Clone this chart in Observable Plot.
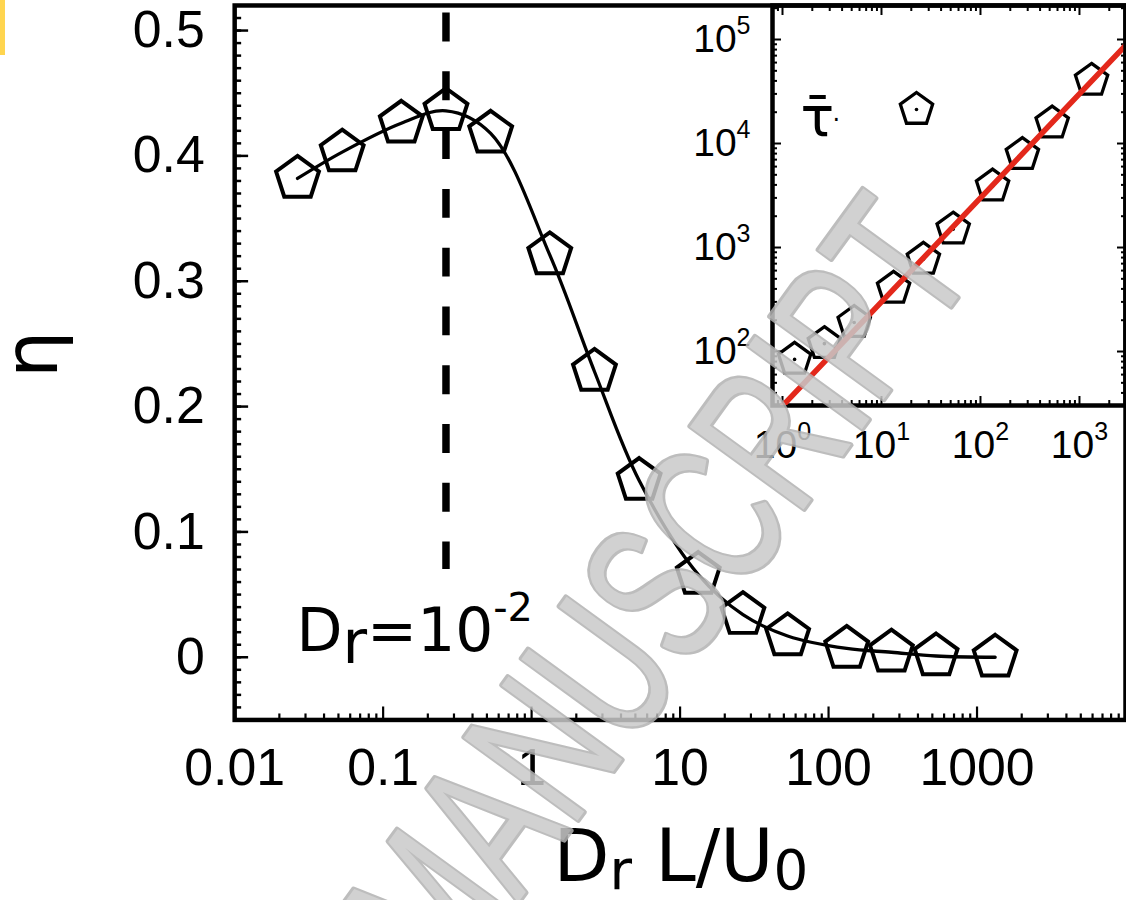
<!DOCTYPE html>
<html><head><meta charset="utf-8">
<script src="https://cdn.jsdelivr.net/npm/d3@7"></script>
<script src="https://cdn.jsdelivr.net/npm/@observablehq/plot@0.6"></script>
<style>
html,body{margin:0;padding:0;background:#fff;overflow:hidden;width:1126px;height:900px;}
#wrap{position:relative;width:1126px;height:900px;overflow:hidden;}
#wrap svg{position:absolute;top:0;}
#ybar{position:absolute;left:0;top:0;width:5px;height:55px;background:#FFD54F;}
</style></head><body><div id="wrap"><div id="ybar"></div></div>
<script>
// ---------- data ----------
const drL = [0.0265, 0.053, 0.1325, 0.265, 0.53, 1.325, 2.65, 5.3, 13.25, 26.5, 53, 132.5, 265, 530, 1325];
const eta = [0.382, 0.403, 0.426, 0.436, 0.418, 0.321, 0.228, 0.141, 0.066, 0.034, 0.017, 0.007, 0.004, 0.001, 0.0];
const insetX = [1.325, 2.65, 5.3, 13.25, 26.5, 53, 132.5, 265, 530, 1325];
const tauBar = [84, 119, 190, 405, 770, 1500, 3890, 7830, 15700, 40400];
const fitX = [1, 2920];
const fitY = [30, 87600];
const markerDr = [0.265];
const markerEta = [0.514, 0.07];
const xTicks = [0.01, 0.1, 1, 10, 100, 1000];
const xTickLabels = ["0.01", "0.1", "1", "10", "100", "1000"];
const yTicks = [0, 0.1, 0.2, 0.3, 0.4, 0.5];
const yTickLabels = ["0", "0.1", "0.2", "0.3", "0.4", "0.5"];
const insetXTicks = [1, 10, 100, 1000];
const insetXTickLabels = ["10^{0}", "10^{1}", "10^{2}", "10^{3}"];
const insetYTicks = [100, 1000, 10000, 100000];
const insetYTickLabels = ["10^{2}", "10^{3}", "10^{4}", "10^{5}"];
const annotation = "D_{r}=10^{-2}";
const xLabel = "D_{r} L/U_{0}";
const yLabel = "η";
const legendLabel = "τ\u0304";
const legendDot = "·";
const watermark = "MANUSCRIPT";

// ---------- helpers ----------
const mainData = drL.map((x, i) => ({x, y: eta[i]}));
const insetData = insetX.map((x, i) => ({x, y: tauBar[i]}));
const fitData = fitX.map((x, i) => ({x, y: fitY[i]}));

const pentagon = {
  draw(ctx, size) {
    const R = Math.sqrt(size / Math.PI);
    for (let k = 0; k < 5; k++) {
      const a = -Math.PI / 2 + k * 2 * Math.PI / 5;
      const px = R * Math.cos(a), py = R * Math.sin(a);
      if (k) ctx.lineTo(px, py); else ctx.moveTo(px, py);
    }
    ctx.closePath();
  }
};
function logMinor(lo, hi, dmin, dmax) {
  const out = [];
  for (let e = lo; e < hi; e++) for (let m = 2; m <= 9; m++) {
    const v = m * Math.pow(10, e);
    if (v >= dmin && v <= dmax) out.push(v);
  }
  return out;
}
const arial = "'Liberation Sans', Arial, sans-serif";
const dejavu = "'DejaVu Sans', sans-serif";

// ---------- inset ----------
const ixDom = [Math.pow(10, -0.101), Math.pow(10, 3.465)];
const iyDom = [Math.pow(10, 1.481), Math.pow(10, 5.327)];
const ixMinor = logMinor(-1, 4, ixDom[0], ixDom[1]);
const iyMinor = logMinor(1, 6, iyDom[0], iyDom[1]);
const tickStyle = {fill: null, label: null, strokeWidth: 2};

const inset = Plot.plot({
  width: 466, height: 470,
  marginLeft: 112, marginRight: 1, marginTop: 5, marginBottom: 65,
  style: {background: "transparent", fontFamily: arial, overflow: "visible"},
  x: {type: "log", domain: ixDom, label: null},
  y: {type: "log", domain: iyDom, label: null},
  marks: [
    Plot.axisY(iyMinor, {anchor: "left", tickSize: 5, dx: 5, ...tickStyle}),
    Plot.axisY(insetYTicks, {anchor: "left", tickSize: 9, dx: 9, ...tickStyle}),
    Plot.axisY(iyMinor, {anchor: "right", tickSize: 5, dx: -5, ...tickStyle}),
    Plot.axisY(insetYTicks, {anchor: "right", tickSize: 9, dx: -9, ...tickStyle}),
    Plot.axisX(ixMinor, {anchor: "bottom", tickSize: 5, dy: -5, ...tickStyle}),
    Plot.axisX(insetXTicks, {anchor: "bottom", tickSize: 9, dy: -9, ...tickStyle}),
    Plot.axisX(ixMinor, {anchor: "top", tickSize: 5, dy: 5, ...tickStyle}),
    Plot.axisX(insetXTicks, {anchor: "top", tickSize: 9, dy: 9, ...tickStyle}),
    Plot.axisY(insetYTicks, {anchor: "left", tickSize: 0, tickPadding: 22, label: null,
      tickFormat: d => insetYTickLabels[insetYTicks.indexOf(d)], fontSize: 39, fontFamily: arial}),
    Plot.axisX(insetXTicks, {anchor: "bottom", tickSize: 0, tickPadding: 25, label: null,
      tickFormat: d => insetXTickLabels[insetXTicks.indexOf(d)], fontSize: 39, fontFamily: arial}),
    Plot.frame({strokeWidth: 4.5}),
    Plot.dot(insetData, {x: "x", y: "y", symbol: pentagon, r: 17, stroke: "black", strokeWidth: 3.3, fill: "none"}),
    Plot.dot(insetData, {x: "x", y: "y", r: 1.8, fill: "black"}),
    Plot.line(fitData, {x: "x", y: "y", stroke: "#e3281b", strokeWidth: 5.5, clip: true}),
    Plot.text([legendLabel], {text: d => d, frameAnchor: "top-left", dx: 28, dy: 130, textAnchor: "start", lineAnchor: "bottom", fontSize: 56, fontFamily: dejavu}),
    Plot.text([legendDot], {text: d => d, frameAnchor: "top-left", dx: 60, dy: 122, textAnchor: "start", lineAnchor: "bottom", fontSize: 24, fontFamily: dejavu}),
    Plot.dot([0], {x: null, y: null, frameAnchor: "top-left", dx: 144, dy: 104, symbol: pentagon, r: 17, stroke: "black", strokeWidth: 3.3, fill: "none"}),
    Plot.dot([0], {x: null, y: null, frameAnchor: "top-left", dx: 144, dy: 104, r: 1.8, fill: "black"})
  ]
});
inset.style.left = "660px";

// ---------- main ----------
const yMinor = d3.range(-5, 53).map(i => i / 100);
const xMinor = logMinor(-2, 4, 0.01, 10000);
const main = Plot.plot({
  width: 1130, height: 900,
  marginLeft: 235, marginRight: 1, marginTop: 5, marginBottom: 178,
  style: {background: "transparent", fontFamily: arial, overflow: "visible"},
  x: {type: "log", domain: [0.01, 1e4], label: null},
  y: {domain: [-0.05, 0.52], label: null},
  marks: [
    Plot.axisY(yMinor, {anchor: "left", tickSize: 7, dx: 7, fill: null, label: null, strokeWidth: 2.5}),
    Plot.axisY(yTicks, {anchor: "left", tickSize: 14, dx: 14, fill: null, label: null, strokeWidth: 2.5}),
    Plot.axisX(xMinor, {anchor: "bottom", tickSize: 6, dy: -6, fill: null, label: null, strokeWidth: 2.2}),
    Plot.axisX(xTicks, {anchor: "bottom", tickSize: 13, dy: -13, fill: null, label: null, strokeWidth: 2.2}),
    Plot.axisY(yTicks, {anchor: "left", tickSize: 0, tickPadding: 30, label: null,
      tickFormat: d => yTickLabels[yTicks.indexOf(d)], fontSize: 52, fontFamily: arial}),
    Plot.axisX(xTicks, {anchor: "bottom", tickSize: 0, tickPadding: 28, label: null,
      tickFormat: d => xTickLabels[xTicks.indexOf(d)], fontSize: 52, fontFamily: arial}),
    Plot.frame({strokeWidth: 4.5}),
    Plot.ruleX(markerDr, {y1: markerEta[0], y2: markerEta[1], strokeWidth: 7.5, strokeDasharray: "29,30"}),
    Plot.line(mainData, {x: "x", y: "y", curve: "catmull-rom", strokeWidth: 3.3}),
    Plot.dot(mainData, {x: "x", y: "y", symbol: pentagon, r: 22.6, stroke: "black", strokeWidth: 4, fill: "none"}),
    Plot.text([annotation], {text: d => d, frameAnchor: "bottom-left", dx: 62, dy: -69, textAnchor: "start", lineAnchor: "bottom", fontSize: 60, fontFamily: dejavu}),
    Plot.text([xLabel], {text: d => d, frameAnchor: "bottom-left", dx: 320, dy: 162, textAnchor: "start", lineAnchor: "bottom", fontSize: 73, fontFamily: dejavu}),
    Plot.text([yLabel], {text: d => d, frameAnchor: "left", dx: -202, dy: -8.5, rotate: -90, textAnchor: "middle", lineAnchor: "middle", fontSize: 75, fontFamily: dejavu}),
    Plot.text([watermark], {text: d => d, frameAnchor: "middle", textAnchor: "middle", lineAnchor: "middle", dx: -18, dy: 231, rotate: -54,
      fontSize: 205, fontFamily: arial, fill: "#c9c9c9", stroke: "#b2b2b2", strokeWidth: 6, strokeLinejoin: "round", opacity: 0.85})
  ]
});
main.style.left = "0px";

const wrap = document.getElementById("wrap");
wrap.appendChild(inset);
wrap.appendChild(main);

// ---------- rich text (sub/superscripts as tspans) ----------
const richSpec = {
  [annotation]: {_: {size: 60, shift: 12}, "^": {size: 40, shift: -30}},
  [xLabel]: {_: {size: 55, shift: 8}},
  default: {"^": {size: 25, shift: -18}, _: {size: 25, shift: 8}}
};
const NS = "http://www.w3.org/2000/svg";
function richify(svg) {
  svg.querySelectorAll("text").forEach(t => {
    const s = t.textContent;
    if (!/[_^]\{/.test(s)) return;
    const spec = richSpec[s] || richSpec.default;
    while (t.firstChild) t.removeChild(t.firstChild);
    const re = /([_^])\{([^}]*)\}/g;
    let last = 0, shift = 0, m;
    const add = (txt, dy, size) => {
      const ts = document.createElementNS(NS, "tspan");
      if (dy) ts.setAttribute("dy", dy);
      if (size) ts.setAttribute("font-size", size);
      ts.textContent = txt;
      t.appendChild(ts);
    };
    while ((m = re.exec(s))) {
      if (m.index > last) { add(s.slice(last, m.index), -shift, null); shift = 0; }
      const sp = spec[m[1]];
      add(m[2], sp.shift - shift, sp.size);
      shift = sp.shift;
      last = re.lastIndex;
    }
    if (last < s.length) add(s.slice(last), -shift, null);
  });
}
richify(main);
richify(inset);
main.querySelectorAll("text").forEach(t => {
  if (t.textContent === watermark) {
    t.setAttribute("textLength", "900");
    t.setAttribute("lengthAdjust", "spacingAndGlyphs");
  }
});
</script></body></html>
